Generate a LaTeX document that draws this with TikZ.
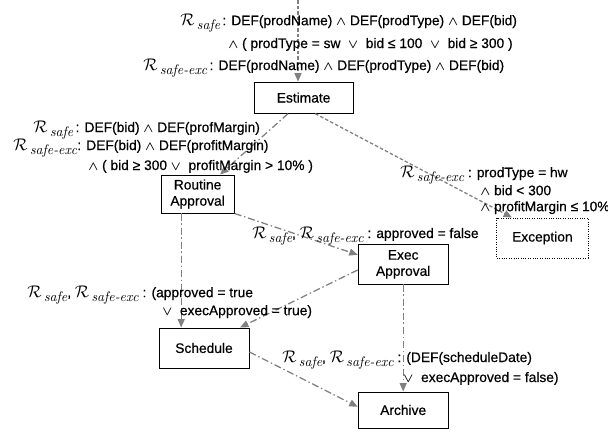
\documentclass[tikz,border=0pt]{standalone}
\usepackage[no-math]{fontspec}
\setsansfont{Liberation Sans}[FakeBold=0.5]
\renewcommand{\familydefault}{\sfdefault}
\usetikzlibrary{arrows.meta, positioning}

\newcommand{\rsafe}{{\large$\mathcal{R}$}\,\raisebox{-0.6ex}{\rmfamily\itshape safe}}
\newcommand{\rexc}{{\large$\mathcal{R}$}\,\raisebox{-0.6ex}{\rmfamily\itshape safe-exc}}
\newcommand{\cand}{{\small\boldmath$\wedge$}}
\newcommand{\cor}{{\small\boldmath$\vee$}}

\begin{document}
\begin{tikzpicture}[>={Triangle[length=6pt, width=5pt]}, font=\fontsize{9.8}{11.5}\selectfont,
    task/.style={draw, line width=0.7pt, minimum width=2.25cm, minimum height=1cm, inner sep=1pt, align=center},
    flow/.style={->, draw=gray, line width=0.9pt, dash pattern=on 5pt off 2pt on 1pt off 2pt},
    flowdash/.style={->, draw=gray, line width=0.9pt, dash pattern=on 2.5pt off 1.5pt},
    cond/.style={anchor=base west, inner sep=0pt}]
    \useasboundingbox (0, 0) rectangle (15.2, -10.85);

    \node[task, minimum width=2.48cm, minimum height=0.78cm] (est) at (7.59, -2.44) {Estimate};
    \node[task, minimum width=1.83cm, minimum height=0.95cm] (rout) at (4.94, -4.85) {Routine\\Approval};
    \node[task, minimum height=0.98cm] (exec) at (10.08, -6.61) {Exec\\Approval};
    \node[task, densely dotted, minimum width=2.28cm] (exc) at (13.56, -5.95) {Exception};
    \node[task] (sched) at (5.10, -8.70) {Schedule};
    \node[task, minimum height=0.9cm] (arch) at (10.08, -10.25) {Archive};

    % flows
    \coordinate (in) at (7.45, 0);
    \coordinate (rs) at ([xshift=-0.41cm]rout.south);
    \draw[flowdash] (in) -- (in |- est.north);
    \draw[flow] ([xshift=-0.39cm]est.south) -- ([xshift=0.56cm]rout.north);
    \draw[flowdash] ([xshift=0.29cm]est.south) -- ([xshift=-0.76cm]exc.north);
    \draw[flow] (rout.south east) -- ([yshift=0.24cm]exec.west);
    \draw[flow] (rs) -- (rs |- sched.north);
    \draw[flow] ([yshift=-0.14cm]exec.west) -- ([xshift=0.9cm]sched.north);
    \draw[flow] (exec.south) -- (arch.north);
    \draw[flow] ([yshift=-0.1cm]sched.east) -- ([yshift=0.08cm]arch.west);

    % conditions
    \node[cond] (lt1) at (4.50, -0.63) {\rsafe\,: DEF(prodName) \cand\ DEF(prodType) \cand\ DEF(bid)};
    \node[cond] (lt2) at (5.70, -1.20) {\cand\ ( prodType = sw \ \cor\ \ bid ≤ 100 \ \cor\ \ bid ≥ 300 )};
    \node[cond] (lt3) at (3.58, -1.75) {\rexc\,: DEF(prodName) \cand\ DEF(prodType) \cand\ DEF(bid)};

    \node[cond] (ll1) at (0.83, -3.30) {\rsafe\,: DEF(bid) \cand\ DEF(profMargin)};
    \node[cond] (ll2) at (0.33, -3.75) {\rexc: DEF(bid) \cand\ DEF(profitMargin)};
    \node[cond] (ll3) at (2.20, -4.25) {\cand\ ( bid ≥ 300 \cor\ \ profitMargin > 10\% )};

    \node[cond] (lr1) at (10.00, -4.43) {\rexc\ : prodType = hw};
    \node[cond] (lr2) at (12.00, -4.88) {\cand\ bid < 300};
    \node[cond] (lr3) at (12.00, -5.28) {\cand\ profitMargin ≤ 10\%};

    \node[cond] (lm) at (6.30, -5.95) {\rsafe, \rexc\ : approved = false};

    \node[cond] (lb1) at (0.68, -7.43) {\rsafe, \rexc\ : (approved = true};
    \node[cond] (lb2) at (4.05, -7.88) {\cor\ \ execApproved = true)};

    \node[cond] (lc1) at (7.05, -9.05) {\rsafe, \rexc\ : (DEF(scheduleDate)};
    \node[cond] (lc2) at (10.08, -9.55) {\cor\ \ execApproved = false)};
\end{tikzpicture}
\end{document}
